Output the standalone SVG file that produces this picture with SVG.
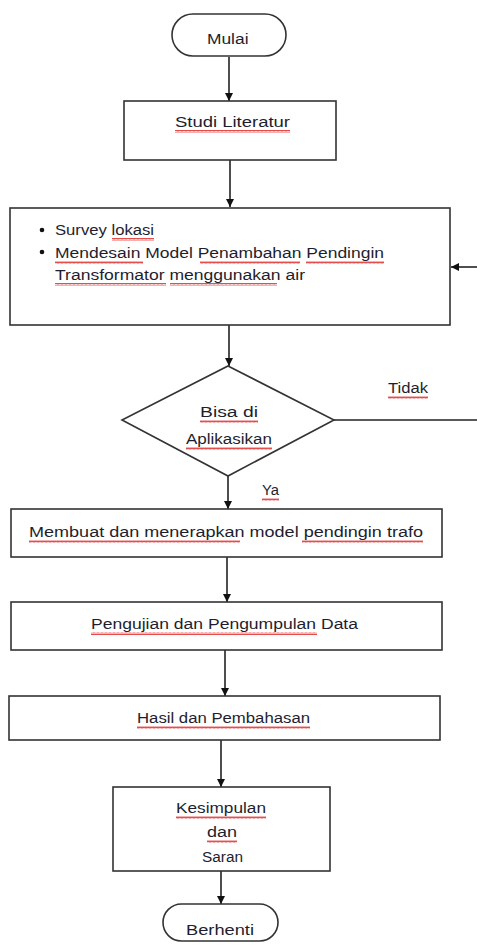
<svg xmlns="http://www.w3.org/2000/svg" width="477" height="946" viewBox="0 0 477 946">
<style>
.s{fill:#fff;stroke:#333;stroke-width:1.6}
.t{font-family:"Liberation Sans",Arial,sans-serif;font-size:14px;fill:#1e1e2e}
.c{stroke:#222;stroke-width:1.6;fill:none}
.sq{fill:url(#sq)}
</style>
<defs>
<marker id="ah" viewBox="0 0 10 10" refX="10" refY="5" markerWidth="8" markerHeight="8" markerUnits="userSpaceOnUse" orient="auto">
<path d="M0 0 L10 5 L0 10 Z" fill="#111"/>
</marker>
<pattern id="sq" width="4" height="3" patternUnits="userSpaceOnUse">
<path d="M0 2.5 L1 0.5 L2 2.5 L3 0.5 L4 2.5" fill="none" stroke="#e02020" stroke-width="0.8"/>
</pattern>
</defs>
<rect width="477" height="946" fill="#fff"/>
<g id="connectors">
<line class="c" x1="229" y1="57" x2="229" y2="101" marker-end="url(#ah)"/>
<line class="c" x1="230" y1="160" x2="230" y2="207" marker-end="url(#ah)"/>
<line class="c" x1="229" y1="325" x2="229" y2="366" marker-end="url(#ah)"/>
<line class="c" x1="334" y1="420" x2="477" y2="420"/>
<line class="c" x1="477" y1="267" x2="451" y2="267" marker-end="url(#ah)"/>
<line class="c" x1="228" y1="476" x2="228" y2="509" marker-end="url(#ah)"/>
<line class="c" x1="227" y1="557" x2="227" y2="602" marker-end="url(#ah)"/>
<line class="c" x1="225" y1="650" x2="225" y2="696" marker-end="url(#ah)"/>
<line class="c" x1="221" y1="740" x2="221" y2="787" marker-end="url(#ah)"/>
<line class="c" x1="221" y1="871" x2="221" y2="904" marker-end="url(#ah)"/>
<text class="t" x="388" y="393" textLength="40" lengthAdjust="spacingAndGlyphs">Tidak</text>
<rect class="sq" x="388" y="396" width="40" height="3"/>
<text class="t" x="262" y="495" textLength="17" lengthAdjust="spacingAndGlyphs">Ya</text>
<rect class="sq" x="262" y="498" width="17" height="3"/>
</g>
<g id="mulai">
<rect class="s" x="172" y="14" width="114" height="42" rx="21"/>
<text class="t" x="207" y="44" textLength="41.5" lengthAdjust="spacingAndGlyphs">Mulai</text>
</g>
<g id="studi">
<rect class="s" x="124" y="101" width="212" height="59"/>
<text class="t" x="175" y="127" textLength="115" lengthAdjust="spacingAndGlyphs">Studi Literatur</text>
<rect class="sq" x="175" y="130" width="115" height="3"/>
</g>
<g id="survey">
<rect class="s" x="10" y="208" width="440" height="117"/>
<circle cx="42" cy="230" r="2.3" fill="#111"/>
<circle cx="42" cy="252" r="2.3" fill="#111"/>
<text class="t" x="55" y="235" textLength="99" lengthAdjust="spacingAndGlyphs">Survey lokasi</text>
<text class="t" x="55" y="258" textLength="329" lengthAdjust="spacingAndGlyphs">Mendesain Model Penambahan Pendingin</text>
<text class="t" x="55" y="280" textLength="250" lengthAdjust="spacingAndGlyphs">Transformator menggunakan  air</text>
<rect class="sq" x="112" y="238" width="42" height="3"/>
<rect class="sq" x="55" y="261" width="88" height="3"/>
<rect class="sq" x="200" y="261" width="100" height="3"/>
<rect class="sq" x="306" y="261" width="78" height="3"/>
<rect class="sq" x="55" y="283" width="111" height="3"/>
<rect class="sq" x="170" y="283" width="107" height="3"/>
</g>
<g id="decision">
<polygon class="s" points="228,366 334,420 228,476 122,420"/>
<text class="t" x="200" y="417" textLength="58" lengthAdjust="spacingAndGlyphs">Bisa  di</text>
<text class="t" x="186" y="444" textLength="86" lengthAdjust="spacingAndGlyphs">Aplikasikan</text>
<rect class="sq" x="200" y="420" width="58" height="3"/>
<rect class="sq" x="186" y="447" width="86" height="3"/>
</g>
<g id="membuat">
<rect class="s" x="11" y="509" width="431" height="48"/>
<text class="t" x="29" y="537" textLength="394" lengthAdjust="spacingAndGlyphs">Membuat dan menerapkan model pendingin trafo</text>
<rect class="sq" x="29" y="540" width="211" height="3"/>
<rect class="sq" x="302" y="540" width="121" height="3"/>
</g>
<g id="pengujian">
<rect class="s" x="11" y="602" width="431" height="48"/>
<text class="t" x="91" y="629" textLength="267" lengthAdjust="spacingAndGlyphs">Pengujian dan Pengumpulan Data</text>
<rect class="sq" x="91" y="632" width="226" height="3"/>
</g>
<g id="hasil">
<rect class="s" x="9" y="696" width="431" height="44"/>
<text class="t" x="137" y="723" textLength="173" lengthAdjust="spacingAndGlyphs">Hasil dan Pembahasan</text>
<rect class="sq" x="137" y="726" width="173" height="3"/>
</g>
<g id="kesimpulan">
<rect class="s" x="113" y="787" width="217" height="84"/>
<text class="t" x="176" y="813" textLength="90" lengthAdjust="spacingAndGlyphs">Kesimpulan</text>
<text class="t" x="207" y="837" textLength="30" lengthAdjust="spacingAndGlyphs">dan</text>
<text class="t" x="202" y="862" textLength="41" lengthAdjust="spacingAndGlyphs">Saran</text>
<rect class="sq" x="176" y="816" width="90" height="3"/>
<rect class="sq" x="207" y="840" width="30" height="3"/>
</g>
<g id="berhenti">
<rect class="s" x="163" y="904" width="115" height="37" rx="18.5"/>
<text class="t" x="186" y="935" textLength="68" lengthAdjust="spacingAndGlyphs">Berhenti</text>
</g>
</svg>
